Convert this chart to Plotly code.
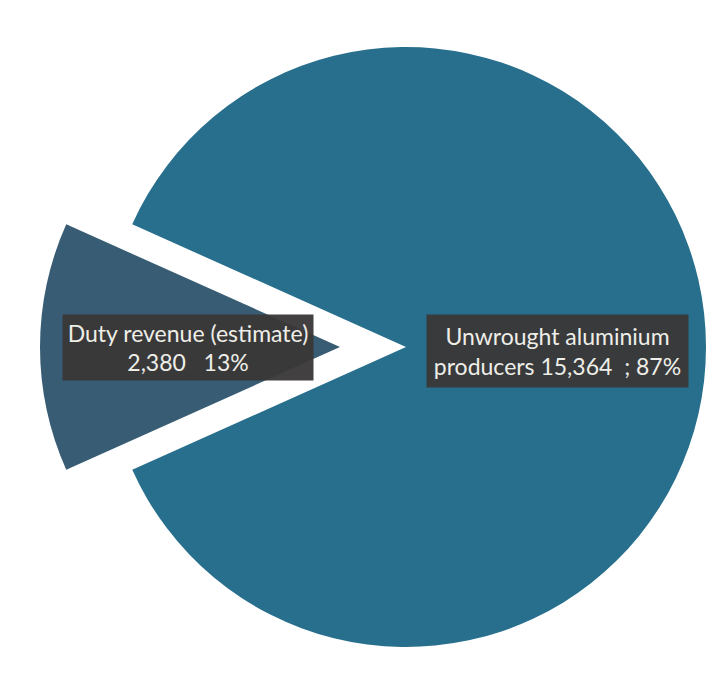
import plotly.graph_objects as go

labels = ["Duty revenue (estimate)", "Unwrought aluminium producers"]
values = [2380, 15364]
colors = ["#375C73", "#276F8D"]

W, H = 718, 681
total = sum(values)
frac_small = values[0] / total
rotation = 270 - 360 * frac_small / 2

cx, cy, r = 406, 347, 300       # main pie centre (px from left/top)
pull_px = 66                      # how far small slice is exploded

fig = go.Figure()
# big slice (small slice transparent)
fig.add_trace(go.Pie(
    labels=labels, values=values, sort=False, direction="clockwise",
    rotation=rotation, textinfo="none", hoverinfo="label+value+percent",
    marker=dict(colors=["rgba(0,0,0,0)", colors[1]], line=dict(width=0)),
    domain=dict(x=[(cx - r) / W, (cx + r) / W], y=[1 - (cy + r) / H, 1 - (cy - r) / H]),
    showlegend=False,
))
# exploded small slice
scx = cx - pull_px
fig.add_trace(go.Pie(
    labels=labels, values=values, sort=False, direction="clockwise",
    rotation=rotation, textinfo="none", hoverinfo="label+value+percent",
    marker=dict(colors=[colors[0], "rgba(0,0,0,0)"], line=dict(width=0)),
    domain=dict(x=[(scx - r) / W, (scx + r) / W], y=[1 - (cy + r) / H, 1 - (cy - r) / H]),
    showlegend=False,
))

pct = [round(100 * v / total) for v in values]
txt_small = f"{labels[0]}<br>{values[0]:,}   {pct[0]}%"
txt_big = f"Unwrought aluminium<br>producers {values[1]:,}  ; {pct[1]}%"

font = dict(family="Lato, Open Sans, sans-serif", size=23, color="#EEEEE8")
fig.add_annotation(x=188 / W, y=1 - 347 / H, xref="paper", yref="paper",
                   xanchor="center", yanchor="middle",
                   text=txt_small, showarrow=False, font=font,
                   width=250, height=65, borderpad=0,
                   bgcolor="rgba(58,56,56,0.96)", align="center")
fig.add_annotation(x=557 / W, y=1 - 351 / H, xref="paper", yref="paper",
                   xanchor="center", yanchor="middle",
                   text=txt_big, showarrow=False, font=font,
                   width=261, height=72, borderpad=0,
                   bgcolor="rgba(58,56,56,0.96)", align="center")

fig.update_layout(width=W, height=H, margin=dict(l=0, r=0, t=0, b=0),
                  paper_bgcolor="white", plot_bgcolor="white")
fig.write_html("out.html")
